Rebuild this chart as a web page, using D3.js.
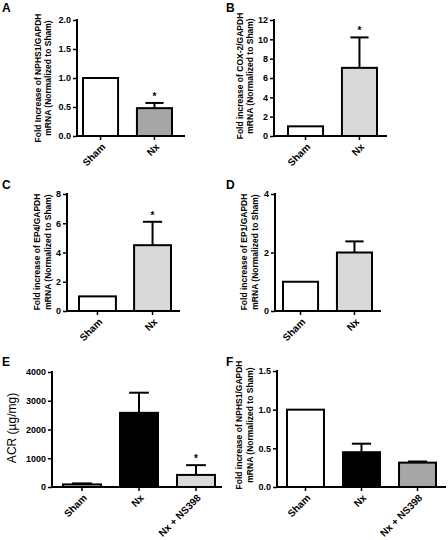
<!DOCTYPE html>
<html><head><meta charset="utf-8">
<script src="https://cdn.jsdelivr.net/npm/d3@7"></script>
<style>
body{margin:0;background:#fff;}
svg{display:block;font-family:"Liberation Sans",Arial,sans-serif;}
</style></head>
<body><svg id="chart" width="448" height="540"></svg>
<script>
// ---- data ----
const categories2 = ["Sham", "Nx"];
const categories3 = ["Sham", "Nx", "Nx + NS398"];

const nphs1Mean = [1.0, 0.48];
const nphs1Err = [0, 0.09];
const nphs1Ticks = [0, 0.5, 1.0, 1.5, 2.0];

const cox2Mean = [1.0, 7.05];
const cox2Err = [0, 3.15];
const cox2Ticks = [0, 2, 4, 6, 8, 10, 12];

const ep4Mean = [1.0, 4.5];
const ep4Err = [0, 1.6];
const ep4Ticks = [0, 2, 4, 6, 8];

const ep1Mean = [1.0, 2.0];
const ep1Err = [0, 0.38];
const ep1Ticks = [0, 2, 4];

const acrMean = [90, 2580, 420];
const acrErr = [35, 700, 340];
const acrTicks = [0, 1000, 2000, 3000, 4000];

const nphs1bMean = [1.0, 0.45, 0.315];
const nphs1bErr = [0, 0.11, 0.015];
const nphs1bTicks = [0, 0.5, 1.0, 1.5];

// ---- layout / style ----
const WHITE = "#ffffff", LIGHT = "#d9d9d9", MID = "#a6a6a6", BLACK = "#000000";

const panels = [
  {letter:"A", lx:2, ly:12, cats:categories2, mean:nphs1Mean, err:nphs1Err, ticks:nphs1Ticks, fmt:".1f",
   ax0:77, ax1:185, yTop:20, yZero:136, b0:83, b1:172, pi:0.35, fills:[WHITE, MID], stars:[1],
   title:["Fold Increase of NPHS1/GAPDH","mRNA (Normalized to Sham)"], tx:[38,48], ty:78},
  {letter:"B", lx:226, ly:12, cats:categories2, mean:cox2Mean, err:cox2Err, ticks:cox2Ticks, fmt:"d",
   ax0:274, ax1:387, yTop:20, yZero:136, b0:288, b1:377, pi:0.35, fills:[WHITE, LIGHT], stars:[1],
   title:["Fold increase of COX-2/GAPDH","mRNA (Normalized to Sham)"], tx:[240,250], ty:76},
  {letter:"C", lx:2, ly:189, cats:categories2, mean:ep4Mean, err:ep4Err, ticks:ep4Ticks, fmt:"d",
   ax0:67, ax1:180, yTop:194, yZero:311, b0:79, b1:171, pi:0.33, fills:[WHITE, LIGHT], stars:[1],
   title:["Fold increase of EP4/GAPDH","mRNA (Normalized to Sham)"], tx:[37,48], ty:252},
  {letter:"D", lx:226, ly:189, cats:categories2, mean:ep1Mean, err:ep1Err, ticks:ep1Ticks, fmt:"d",
   ax0:275, ax1:381, yTop:194, yZero:311, b0:283, b1:372, pi:0.35, fills:[WHITE, LIGHT], stars:[],
   title:["Fold increase of EP1/GAPDH","mRNA (Normalized to Sham)"], tx:[244,255], ty:252},
  {letter:"E", lx:2, ly:366, cats:categories3, mean:acrMean, err:acrErr, ticks:acrTicks, fmt:"d",
   ax0:52, ax1:222, yTop:372, yZero:487, b0:63, b1:215, pi:0.333, fills:[LIGHT, BLACK, LIGHT], stars:[2],
   title:["ACR (\u00b5g/mg)"], tx:[12], ty:428, big:true},
  {letter:"F", lx:226, ly:366, cats:categories3, mean:nphs1bMean, err:nphs1bErr, ticks:nphs1bTicks, fmt:".1f",
   ax0:277, ax1:446, yTop:371, yZero:487, b0:287, b1:436, pi:0.34, fills:[WHITE, BLACK, MID], stars:[],
   title:["Fold increase of NPHS1/GAPDH","mRNA (Normalized to Sham)"], tx:[239,250], ty:425}
];

const svg = d3.select("#chart");

panels.forEach(p => {
  const g = svg.append("g");
  const yMax = p.ticks[p.ticks.length - 1];
  const y = d3.scaleLinear().domain([0, yMax]).range([p.yZero, p.yTop]);
  const x = d3.scaleBand().domain(p.cats).range([p.b0, p.b1]).paddingInner(p.pi).paddingOuter(0);
  const bw = x.bandwidth();

  // panel letter
  g.append("text").attr("x", p.lx).attr("y", p.ly).text(p.letter)
    .attr("font-size", 12).attr("font-weight", "bold");

  // bars
  p.cats.forEach((c, i) => {
    const v = p.mean[i], e = p.err[i];
    const cx = x(c) + bw / 2;
    if (e > 0) {
      g.append("line").attr("x1", cx).attr("x2", cx).attr("y1", y(v)).attr("y2", y(v + e))
        .attr("stroke", "#000").attr("stroke-width", 2);
      g.append("line").attr("x1", cx - bw * 0.26).attr("x2", cx + bw * 0.26)
        .attr("y1", y(v + e)).attr("y2", y(v + e))
        .attr("stroke", "#000").attr("stroke-width", 2);
    }
    g.append("rect").attr("x", x(c)).attr("y", y(v)).attr("width", bw).attr("height", p.yZero - y(v))
      .attr("fill", p.fills[i]).attr("stroke", "#000").attr("stroke-width", 2);
    if (p.stars.includes(i)) {
      g.append("text").attr("x", cx).attr("y", y(v + e) - 3).attr("text-anchor", "middle")
        .attr("font-size", 10).attr("font-weight", "bold").text("*");
    }
  });

  // y axis
  const yAxis = d3.axisLeft(y).tickValues(p.ticks).tickSize(4).tickPadding(2)
    .tickFormat(d3.format(p.fmt));
  const ya = g.append("g").attr("transform", `translate(${p.ax0},0)`).call(yAxis);
  ya.select(".domain").remove();
  ya.selectAll(".tick line").attr("stroke-width", 1.5);
  ya.selectAll("text").attr("font-size", 9).attr("font-weight", "bold")
    .attr("font-family", "Liberation Sans, Arial, sans-serif");
  g.append("line").attr("x1", p.ax0).attr("x2", p.ax0).attr("y1", p.yTop - 1).attr("y2", p.yZero + 1)
    .attr("stroke", "#000").attr("stroke-width", 2);

  // x axis
  const xa = g.append("g").attr("transform", `translate(0,${p.yZero})`)
    .call(d3.axisBottom(x).tickSize(4).tickFormat(""));
  xa.select(".domain").remove();
  xa.selectAll(".tick line").attr("stroke-width", 1.5);
  g.append("line").attr("x1", p.ax0 - 1).attr("x2", p.ax1).attr("y1", p.yZero).attr("y2", p.yZero)
    .attr("stroke", "#000").attr("stroke-width", 2);
  p.cats.forEach(c => {
    const cx = x(c) + bw / 2;
    g.append("text").attr("transform", `translate(${cx + 3},${p.yZero + 9}) rotate(-45)`)
      .attr("text-anchor", "end").attr("dy", "0.35em")
      .attr("font-size", 10).attr("font-weight", "bold").text(c);
  });

  // y title
  p.title.forEach((t, k) => {
    g.append("text").attr("transform", `translate(${p.tx[k]},${p.ty}) rotate(-90)`)
      .attr("text-anchor", "middle").attr("dy", "0.35em")
      .attr("font-size", p.big ? 12 : 8.5).attr("font-weight", p.big ? "normal" : "bold")
      .text(t);
  });
});
</script>
</body></html>
